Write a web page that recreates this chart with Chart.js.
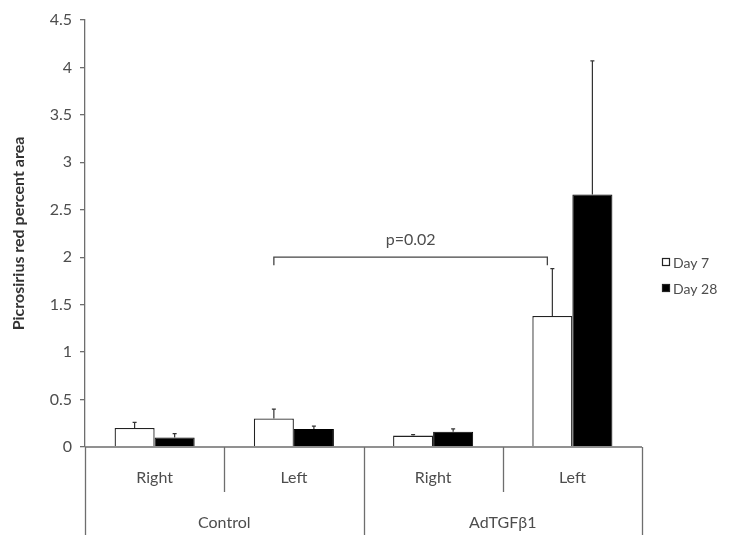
<!DOCTYPE html>
<html>
<head>
<meta charset="utf-8">
<script src="https://cdn.jsdelivr.net/npm/chart.js@4"></script>
<style>
  html, body { margin: 0; padding: 0; background: #fff; }
  #wrap { width: 735px; height: 535px; }
</style>
</head>
<body>
<div id="wrap"><canvas id="chart"></canvas></div>
<script>
// data
const sides = ["Right", "Left", "Right", "Left"];
const groups = ["Control", "AdTGFβ1"];
const seriesNames = ["Day 7", "Day 28"];
const day7 = [0.20, 0.30, 0.12, 1.38];
const day7Err = [0.06, 0.10, 0.01, 0.50];
const day28 = [0.10, 0.19, 0.16, 2.66];
const day28Err = [0.04, 0.03, 0.03, 1.41];
const yMin = 0, yMax = 4.5, yStep = 0.5;
const pText = "p=0.02";
const pLevel = 2.0;

const FONT = "Lato, 'Open Sans', sans-serif";
const LINE = "#6e6e6e";
const TEXT = "#4d4d4d";

const extras = {
    id: "extras",
    afterDatasetsDraw(chart) {
        const ctx = chart.ctx;
        const area = chart.chartArea;
        const x = chart.scales.x;
        const y = chart.scales.y;
        const y0 = y.getPixelForValue(0);
        const H = chart.height;
        const w = (area.right - area.left) / sides.length;

        ctx.save();

        // error bars (upper half only)
        const errs = [day7Err, day28Err];
        const vals = [day7, day28];
        ctx.strokeStyle = "#333";
        ctx.lineWidth = 1.2;
        for (let d = 0; d < 2; d++) {
            const meta = chart.getDatasetMeta(d);
            meta.data.forEach((bar, i) => {
                const top = y.getPixelForValue(vals[d][i] + errs[d][i]);
                const base = y.getPixelForValue(vals[d][i]);
                ctx.beginPath();
                ctx.moveTo(bar.x, base);
                ctx.lineTo(bar.x, top);
                ctx.moveTo(bar.x - 2, top);
                ctx.lineTo(bar.x + 2, top);
                ctx.stroke();
            });
        }

        // x axis + category separators
        ctx.strokeStyle = LINE;
        ctx.lineWidth = 1.3;
        ctx.beginPath();
        ctx.moveTo(area.left, y0);
        ctx.lineTo(area.right, y0);
        for (let i = 0; i <= sides.length; i++) {
            const px = Math.round(area.left + i * w) + 0.5;
            const full = i % 2 === 0;
            ctx.moveTo(px, y0);
            ctx.lineTo(px, full ? H : y0 + 45);
        }
        ctx.stroke();

        // category labels
        ctx.fillStyle = TEXT;
        ctx.font = "16px " + FONT;
        ctx.textAlign = "center";
        ctx.textBaseline = "middle";
        sides.forEach((s, i) => {
            ctx.fillText(s, x.getPixelForValue(i), y0 + 31);
        });
        groups.forEach((g, j) => {
            const cx = (x.getPixelForValue(2 * j) + x.getPixelForValue(2 * j + 1)) / 2;
            ctx.fillText(g, cx, y0 + 76);
        });

        // significance bracket
        const m7 = chart.getDatasetMeta(0);
        const bx1 = m7.data[1].x;
        const bx2 = m7.data[3].x - 5;
        const by = y.getPixelForValue(pLevel);
        ctx.strokeStyle = "#444";
        ctx.lineWidth = 1.3;
        ctx.beginPath();
        ctx.moveTo(bx1, by + 8);
        ctx.lineTo(bx1, by);
        ctx.lineTo(bx2, by);
        ctx.lineTo(bx2, by + 8);
        ctx.stroke();
        ctx.fillStyle = TEXT;
        ctx.font = "16px " + FONT;
        ctx.fillText(pText, (bx1 + bx2) / 2, by - 17);

        // legend
        const lx = area.right + 20;
        const ly = [262, 288];
        ctx.font = "14px " + FONT;
        ctx.textAlign = "left";
        seriesNames.forEach((n, k) => {
            ctx.fillStyle = k === 0 ? "#fff" : "#000";
            ctx.fillRect(lx, ly[k] - 4, 8, 8);
            ctx.strokeStyle = "#222";
            ctx.lineWidth = 1.2;
            ctx.strokeRect(lx + 0.5, ly[k] - 3.5, 7, 7);
            ctx.fillStyle = TEXT;
            ctx.fillText(n, lx + 11, ly[k] + 1);
        });

        ctx.restore();
    }
};

new Chart(document.getElementById("chart"), {
    type: "bar",
    data: {
        labels: sides,
        datasets: [
            {
                label: seriesNames[0],
                data: day7,
                backgroundColor: "#fff",
                borderColor: "#222",
                borderWidth: 1.3,
                categoryPercentage: 0.575,
                barPercentage: 1.0
            },
            {
                label: seriesNames[1],
                data: day28,
                backgroundColor: "#000",
                borderColor: "#000",
                borderWidth: 1,
                categoryPercentage: 0.575,
                barPercentage: 1.0
            }
        ]
    },
    options: {
        responsive: true,
        maintainAspectRatio: false,
        animation: false,
        devicePixelRatio: 1,
        layout: { padding: { top: 20, right: 93, bottom: 88, left: 0 } },
        plugins: {
            legend: { display: false },
            tooltip: { enabled: false }
        },
        scales: {
            x: { display: false },
            y: {
                min: yMin,
                max: yMax,
                afterFit: s => { s.width = 85; },
                ticks: {
                    stepSize: yStep,
                    color: TEXT,
                    padding: 8,
                    font: { family: FONT, size: 16 },
                    callback: v => String(v)
                },
                grid: {
                    drawOnChartArea: false,
                    tickLength: 5,
                    color: LINE,
                    lineWidth: 1.3
                },
                border: { color: LINE, width: 1.3 },
                title: {
                    display: true,
                    text: "Picrosirius red percent area",
                    color: "#333",
                    font: { family: FONT, size: 16, weight: "bold" },
                    padding: { top: 9, bottom: 0 }
                }
            }
        }
    },
    plugins: [extras]
});
</script>
</body>
</html>
